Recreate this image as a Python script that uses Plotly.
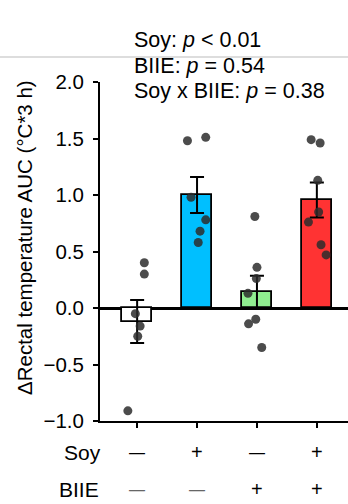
import plotly.graph_objects as go

# ---- data ----
groups = [0, 1, 2, 3]
means = [-0.12, 1.00, 0.14, 0.955]
sems = [0.19, 0.16, 0.145, 0.155]
bar_colors = ["#FFFFFF", "#00BFFF", "#90EE90", "#FF3333"]

dots_g1 = [0.40, 0.30, -0.05, -0.16, -0.25, -0.91]
jit_g1 = [0.12, 0.12, -0.03, 0.05, 0.01, -0.155]
dots_g2 = [1.48, 1.51, 0.98, 0.78, 0.68, 0.58]
jit_g2 = [-0.16, 0.145, -0.10, 0.145, 0.05, 0.02]
dots_g3 = [0.81, 0.36, 0.26, 0.13, -0.10, -0.14, -0.35]
jit_g3 = [-0.035, 0.0, -0.01, -0.15, -0.02, -0.14, 0.08]
dots_g4 = [1.49, 1.46, 1.13, 0.85, 0.76, 0.56, 0.47]
jit_g4 = [-0.095, 0.055, 0.015, 0.03, -0.14, 0.07, 0.155]

soy_row = ["—", "+", "—", "+"]
biie_row = ["—", "—", "+", "+"]
stats_lines = [
    "Soy: <i>p</i> &lt; 0.01",
    "BIIE: <i>p</i> = 0.54",
    "Soy x BIIE: <i>p</i> = 0.38",
]
y_title = "ΔRectal temperature AUC (°C*3 h)"
y_ticks = [-1.0, -0.5, 0.0, 0.5, 1.0, 1.5, 2.0]

FONT = "Liberation Sans, Arial, sans-serif"

fig = go.Figure()
fig.add_trace(go.Bar(
    x=groups, y=means, width=0.5,
    marker=dict(color=bar_colors, line=dict(color="black", width=1.8)),
    error_y=dict(type="data", array=sems, color="black", thickness=2, width=7),
    showlegend=False,
))

all_x, all_y = [], []
for g, vals, jit in zip(groups, [dots_g1, dots_g2, dots_g3, dots_g4],
                        [jit_g1, jit_g2, jit_g3, jit_g4]):
    for v, j in zip(vals, jit):
        all_x.append(g + j)
        all_y.append(v)
fig.add_trace(go.Scatter(
    x=all_x, y=all_y, mode="markers",
    marker=dict(size=9, color="rgba(45,45,45,0.85)", line=dict(width=0)),
    showlegend=False,
))

# Plot area geometry (pixels): left 100, top 82, bottom 421, width 248
PL, PT, PB, PW = 100, 82, 421, 248
PH = PB - PT

def py(px_y):
    return (PB - px_y) / PH

def px(px_x):
    return (px_x - PL) / PW

annotations = []
for line, ypix in zip(stats_lines, [40, 65.5, 91]):
    annotations.append(dict(
        text=line, xref="paper", yref="paper", x=px(132), y=py(ypix),
        xanchor="left", yanchor="middle", showarrow=False,
        font=dict(size=21.5, family=FONT, color="black"),
    ))

annotations.append(dict(
    text=y_title, xref="paper", yref="paper", x=px(24), y=py(238),
    xanchor="center", yanchor="middle", textangle=-90, showarrow=False,
    font=dict(size=20.5, family=FONT, color="black"),
))

BIIE_Y = 489
annotations.append(dict(
    text="Soy", xref="paper", yref="paper", x=px(103), y=py(452),
    xanchor="right", yanchor="middle", showarrow=False,
    font=dict(size=21, family=FONT, color="black"),
))
annotations.append(dict(
    text="BIIE", xref="paper", yref="paper", x=px(101), y=py(BIIE_Y),
    xanchor="right", yanchor="middle", showarrow=False,
    font=dict(size=21, family=FONT, color="black"),
))
for g, s in zip(groups, soy_row):
    annotations.append(dict(
        text=s, xref="x", yref="paper", x=g, y=py(452),
        xanchor="center", yanchor="middle", showarrow=False,
        font=dict(size=16 if s == "—" else 20, family=FONT, color="black"),
    ))
for g, s in zip(groups, biie_row):
    annotations.append(dict(
        text=s, xref="x", yref="paper", x=g, y=py(BIIE_Y),
        xanchor="center", yanchor="middle", showarrow=False,
        font=dict(size=16 if s == "—" else 20, family=FONT,
                  color="#666666" if s == "—" else "black"),
    ))

fig.update_layout(
    width=348, height=504,
    margin=dict(l=PL, r=0, t=PT, b=504 - PB, pad=0),
    paper_bgcolor="white", plot_bgcolor="white",
    font=dict(family=FONT, size=20, color="black"),
    annotations=annotations,
    shapes=[dict(type="line", xref="paper", yref="paper",
                 x0=px(0), x1=1.0, y0=py(57), y1=py(57),
                 line=dict(color="#BBBBBB", width=1))],
    bargap=0,
)
fig.update_xaxes(
    range=[-0.62, 3.52], tickvals=groups, showticklabels=False,
    ticks="outside", ticklen=5, tickwidth=2, tickcolor="black",
    showline=True, linecolor="black", linewidth=2, showgrid=False,
    zeroline=False,
)
fig.update_yaxes(
    range=[-1.0, 2.0], tickvals=y_ticks, tickformat=".1f",
    ticks="outside", ticklen=5, tickwidth=2, tickcolor="black",
    showline=True, linecolor="black", linewidth=2, showgrid=False,
    zeroline=True, zerolinecolor="black", zerolinewidth=2.5,
    tickfont=dict(size=20.5, family=FONT, color="black"),
    ticklabelstandoff=5,
)

fig.write_html("out.html")
